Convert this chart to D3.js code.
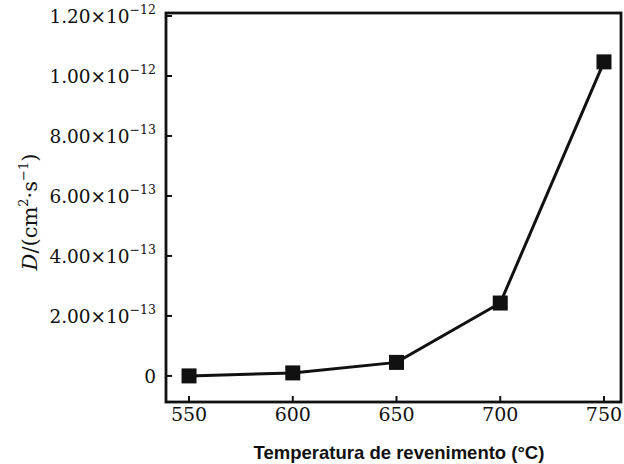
<!DOCTYPE html>
<html>
<head>
<meta charset="utf-8">
<script src="https://cdn.jsdelivr.net/npm/d3@7"></script>
<style>
  body {margin:0; background:#fff;}
  text {fill:#111;}
</style>
</head>
<body>
<svg width="624" height="464"></svg>
<script>
  // data
  var temps = [550, 600, 650, 700, 750];
  var diffusivity = [0.0, 0.1e-13, 0.45e-13, 2.43e-13, 10.47e-13];
  var yTicks = [0, 2e-13, 4e-13, 6e-13, 8e-13, 1e-12, 1.2e-12];
  var yMantissa = ["0", "2.00", "4.00", "6.00", "8.00", "1.00", "1.20"];
  var yExponent = ["", "-13", "-13", "-13", "-13", "-12", "-12"];

  var svg = d3.select("svg"),
      boxL = 166, boxR = 621, boxT = 13, boxB = 402,
      serif = "'DejaVu Serif', serif";

  var x = d3.scaleLinear().domain([538.9, 758.2]).range([boxL, boxR]);
  var y = d3.scaleLinear().domain([-0.87e-13, 1.21e-12]).range([boxB, boxT]);

  var g = svg.append("g");

  // frame
  g.append("rect")
    .attr("x", boxL).attr("y", boxT)
    .attr("width", boxR - boxL).attr("height", boxB - boxT)
    .attr("fill", "none").attr("stroke", "#111").attr("stroke-width", 2.8);

  // x ticks (inward)
  g.selectAll(".xt").data(temps).enter().append("line")
    .attr("x1", function(d) { return x(d); }).attr("x2", function(d) { return x(d); })
    .attr("y1", boxB).attr("y2", boxB - 6)
    .attr("stroke", "#111").attr("stroke-width", 2);
  g.selectAll(".xl").data(temps).enter().append("text")
    .attr("x", function(d) { return x(d); }).attr("y", boxB + 12)
    .attr("text-anchor", "middle").attr("dominant-baseline", "central")
    .style("font-family", serif).style("font-size", "19px")
    .text(function(d) { return d; });

  // y ticks (inward)
  g.selectAll(".yt").data(yTicks).enter().append("line")
    .attr("x1", boxL).attr("x2", boxL + 6)
    .attr("y1", function(d) { return y(d); }).attr("y2", function(d) { return y(d); })
    .attr("stroke", "#111").attr("stroke-width", 2);

  var yl = g.selectAll(".yl").data(yTicks).enter().append("text")
    .attr("x", 156).attr("y", function(d) { return y(d) + 7; })
    .attr("text-anchor", "end")
    .style("font-family", serif).style("font-size", "18.5px");
  yl.append("tspan").text(function(d, i) { return i ? yMantissa[i] + "×10" : "0"; });
  yl.append("tspan")
    .attr("dy", -9).style("font-size", "12.5px")
    .text(function(d, i) { return yExponent[i] ? "\u2212" + yExponent[i].slice(1) : ""; });

  // line + markers
  var pts = temps.map(function(t, i) { return [t, diffusivity[i]]; });
  g.append("path")
    .datum(pts)
    .attr("d", d3.line().x(function(d) { return x(d[0]); }).y(function(d) { return y(d[1]); }))
    .attr("fill", "none").attr("stroke", "#111").attr("stroke-width", 3);
  g.selectAll(".pt").data(pts).enter().append("rect")
    .attr("x", function(d) { return x(d[0]) - 7.5; })
    .attr("y", function(d) { return y(d[1]) - 7.5; })
    .attr("width", 15).attr("height", 15)
    .attr("fill", "#111");

  // axis titles
  g.append("text")
    .attr("x", 399).attr("y", 452)
    .attr("text-anchor", "middle").attr("dominant-baseline", "central")
    .style("font-family", "'Liberation Sans', Arial, sans-serif")
    .style("font-size", "18.5px").style("font-weight", "bold")
    .text("Temperatura de revenimento (°C)");

  var yt = g.append("text")
    .attr("transform", "translate(37,212) rotate(-90)")
    .attr("text-anchor", "middle")
    .style("font-family", serif).style("font-size", "21px");
  yt.append("tspan").style("font-style", "italic").text("D");
  yt.append("tspan").text("/(cm");
  yt.append("tspan").attr("dy", -9).style("font-size", "13px").text("2");
  yt.append("tspan").attr("dy", 9).text("·s");
  yt.append("tspan").attr("dy", -9).style("font-size", "13px").text("\u22121");
  yt.append("tspan").attr("dy", 9).text(")");
</script>
</body>
</html>
